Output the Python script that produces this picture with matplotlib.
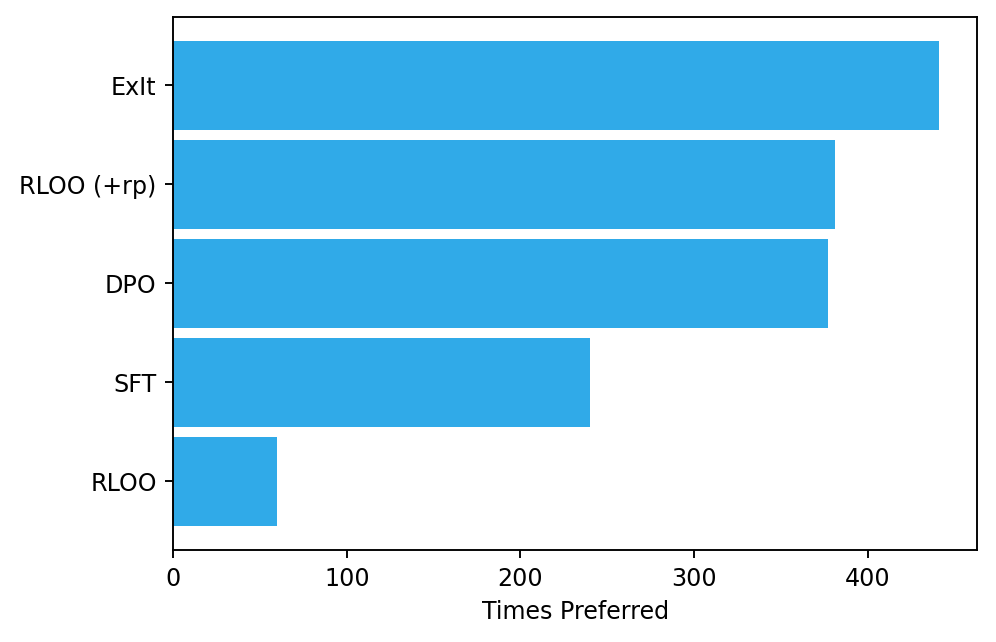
import numpy as np
import matplotlib
matplotlib.use('Agg')
import matplotlib.pyplot as plt

methods = ['RLOO', 'SFT', 'DPO', 'RLOO (+rp)', 'ExIt']
times_preferred = [60, 240, 377, 381, 441]

fig, ax = plt.subplots(figsize=(996 / 171, 642 / 171), dpi=171)
pos = np.arange(len(methods))
ax.barh(pos, times_preferred, height=0.9, color='#30aae8')
ax.set_yticks(pos)
ax.set_yticklabels(methods)
ax.set_xlabel('Times Preferred')
ax.set_xticks([0, 100, 200, 300, 400])

plt.subplots_adjust(left=0.174, right=0.981, top=0.974, bottom=0.143)
plt.savefig('out.png', dpi=171)
